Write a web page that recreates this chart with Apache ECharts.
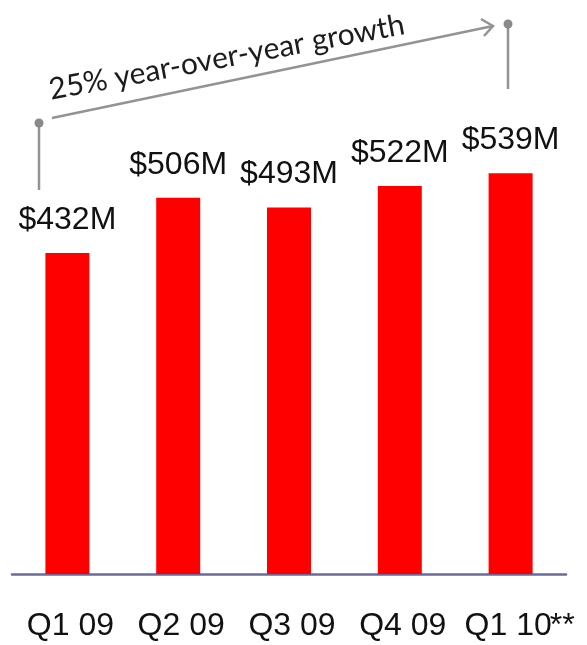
<!DOCTYPE html>
<html>
<head>
<meta charset="utf-8">
<title>Quarterly revenue</title>
<script src="https://cdn.jsdelivr.net/npm/echarts@6/dist/echarts.min.js"></script>
<style>
  html, body { margin: 0; padding: 0; background: #ffffff; }
  #chart { width: 587px; height: 645px; }
</style>
</head>
<body>
<div id="chart"></div>
<script>
// Quarterly revenue, $ millions
const quarters = ['Q1 09', 'Q2 09', 'Q3 09', 'Q4 09', 'Q1 10'];
const revenue = [432, 506, 493, 522, 539];
// footnote marker on the latest quarter
const quarterNotes = ['', '', '', '', '**'];
const growthNote = '25% year-over-year growth';

const chart = echarts.init(document.getElementById('chart'), null, { renderer: 'canvas' });

const gray = '#939393';

chart.setOption({
  animation: false,
  backgroundColor: '#ffffff',
  grid: { left: 12, right: 21, top: 128, bottom: 71, containLabel: false },
  xAxis: {
    type: 'category',
    data: quarters,
    axisLine: { show: true, lineStyle: { color: '#6a6a9e', width: 2.5 } },
    axisTick: { show: false },
    axisLabel: {
      interval: 0,
      hideOverlap: false,
      margin: 36,
      fontFamily: 'Liberation Sans',
      fontSize: 32,
      color: '#111111',
      formatter: function (value, idx) {
        const note = quarterNotes[idx];
        return note ? '{q|' + value + '}{n|' + note + '}' : '{p|' + value + '}';
      },
      rich: {
        p: { fontFamily: 'Liberation Sans', fontSize: 32, color: '#111111', padding: [0, 0, 0, 6] },
        q: { fontFamily: 'Liberation Sans', fontSize: 32, color: '#111111', padding: [0, 0, 0, 18] },
        n: { fontFamily: 'Liberation Sans', fontSize: 32, color: '#111111', padding: [0, 0, 0, -2] }
      }
    }
  },
  yAxis: {
    type: 'value',
    min: 0,
    max: 600,
    show: false,
    splitLine: { show: false }
  },
  series: [{
    type: 'bar',
    data: revenue,
    barWidth: 44,
    itemStyle: { color: '#ff0000' },
    label: {
      show: true,
      position: 'top',
      distance: 17,
      fontFamily: 'Liberation Sans',
      fontSize: 32,
      color: '#111111',
      formatter: p => '$' + p.value + 'M'
    }
  }],
  graphic: [
    // growth bracket: rising arrow between two posts
    { type: 'line', shape: { x1: 39, y1: 123, x2: 39, y2: 190 }, style: { stroke: gray, lineWidth: 2.5 } },
    { type: 'line', shape: { x1: 508, y1: 24, x2: 508, y2: 89 }, style: { stroke: gray, lineWidth: 2.5 } },
    { type: 'line', shape: { x1: 52, y1: 118, x2: 493, y2: 26 }, style: { stroke: gray, lineWidth: 2.5 } },
    { type: 'polyline', shape: { points: [[481, 19], [493, 26], [484, 36]] }, style: { stroke: gray, lineWidth: 2.5, fill: null } },
    { type: 'circle', shape: { cx: 39, cy: 123, r: 4.5 }, style: { fill: '#8a8a8a' } },
    { type: 'circle', shape: { cx: 508, cy: 24, r: 4.5 }, style: { fill: '#8a8a8a' } },
    {
      type: 'text',
      x: 52, y: 105,
      rotation: 10.5 * Math.PI / 180,
      style: {
        text: growthNote,
        fontFamily: 'Lato',
        fontSize: 30,
        fill: '#1c1c1c',
        textAlign: 'left',
        textVerticalAlign: 'bottom'
      }
    }
  ]
});
</script>
</body>
</html>
